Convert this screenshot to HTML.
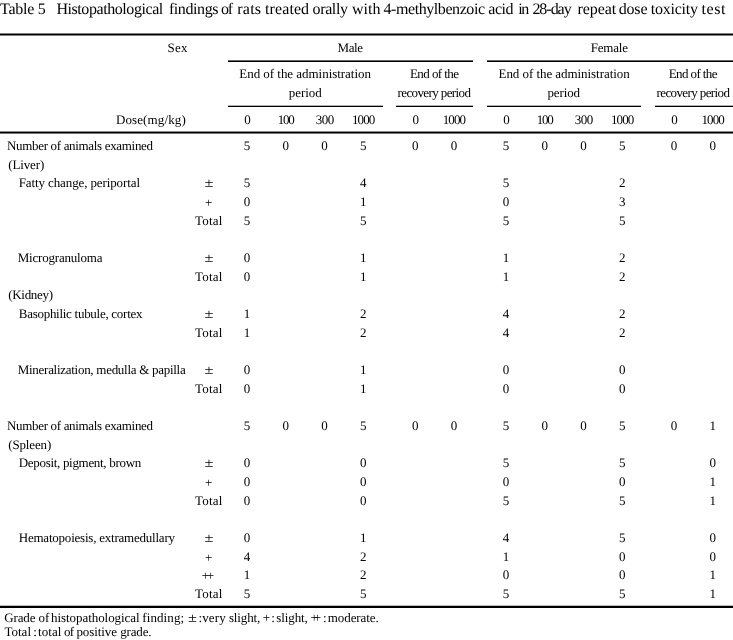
<!DOCTYPE html>
<html lang="en">
<head>
<meta charset="utf-8">
<title>Table 5</title>
<style>
html,body{margin:0;padding:0;background:#fff;overflow:hidden;}
body{width:733px;height:640px;position:relative;overflow:hidden;-webkit-font-smoothing:antialiased;text-rendering:geometricPrecision;font-family:"Liberation Serif","Noto Serif CJK SC",serif;color:#000;}
.t{position:absolute;white-space:nowrap;line-height:0;height:0;}
#page{position:absolute;left:0;top:0;width:733px;height:640px;overflow:hidden;will-change:transform;}
.ln{position:absolute;}
.pm{transform:scaleX(1.25);}
</style>
</head>
<body>
<main id="page">
<div class="ln" style="left:0px;top:33px;width:733px;height:3px;background:linear-gradient(to bottom,#808080 0px 1px,#000000 1px 2px,#808080 2px 3px)"></div>
<div class="ln" style="left:228px;top:60px;width:245px;height:2px;background:linear-gradient(to bottom,#666666 0px 1px,#000000 1px 2px)"></div>
<div class="ln" style="left:487px;top:60px;width:246px;height:2px;background:linear-gradient(to bottom,#666666 0px 1px,#000000 1px 2px)"></div>
<div class="ln" style="left:228px;top:105px;width:155px;height:2px;background:linear-gradient(to bottom,#b2b2b2 0px 1px,#000000 1px 2px)"></div>
<div class="ln" style="left:396px;top:105px;width:77px;height:2px;background:linear-gradient(to bottom,#b2b2b2 0px 1px,#000000 1px 2px)"></div>
<div class="ln" style="left:487px;top:105px;width:154px;height:2px;background:linear-gradient(to bottom,#b2b2b2 0px 1px,#000000 1px 2px)"></div>
<div class="ln" style="left:655px;top:105px;width:78px;height:2px;background:linear-gradient(to bottom,#b2b2b2 0px 1px,#000000 1px 2px)"></div>
<div class="ln" style="left:0px;top:131px;width:733px;height:3px;background:linear-gradient(to bottom,#8c8c8c 0px 1px,#000000 1px 2px,#737373 2px 3px)"></div>
<div class="ln" style="left:0px;top:605px;width:733px;height:3px;background:linear-gradient(to bottom,#bfbfbf 0px 1px,#000000 1px 2px,#000000 2px 3px)"></div>
<div class="t title" id="e0" style="font-size:16px;top:9.80px;left:0.00px;letter-spacing:-0.252px;">Table 5 </div>
<div class="t title" id="e1" style="font-size:16px;top:9.80px;left:56.40px;letter-spacing:-0.429px;">Histopathological </div>
<div class="t title" id="e2" style="font-size:16px;top:9.80px;left:168.90px;letter-spacing:-0.408px;">findings </div>
<div class="t title" id="e3" style="font-size:16px;top:9.80px;left:220.90px;letter-spacing:-1.028px;">of </div>
<div class="t title" id="e4" style="font-size:16px;top:9.80px;left:237.20px;letter-spacing:0.264px;">rats </div>
<div class="t title" id="e5" style="font-size:16px;top:9.80px;left:265.10px;letter-spacing:0.078px;">treated </div>
<div class="t title" id="e6" style="font-size:16px;top:9.80px;left:312.60px;letter-spacing:-0.386px;">orally </div>
<div class="t title" id="e7" style="font-size:16px;top:9.80px;left:352.00px;letter-spacing:0.049px;">with </div>
<div class="t title" id="e8" style="font-size:16px;top:9.80px;left:383.50px;letter-spacing:-0.430px;">4-methylbenzoic </div>
<div class="t title" id="e9" style="font-size:16px;top:9.80px;left:488.30px;letter-spacing:-0.485px;">acid </div>
<div class="t title" id="e10" style="font-size:16px;top:9.80px;left:518.30px;letter-spacing:-1.453px;">in </div>
<div class="t title" id="e11" style="font-size:16px;top:9.80px;left:532.40px;letter-spacing:-1.027px;">28-day </div>
<div class="t title" id="e12" style="font-size:16px;top:9.80px;left:577.40px;letter-spacing:-0.036px;">repeat </div>
<div class="t title" id="e13" style="font-size:16px;top:9.80px;left:618.70px;letter-spacing:-0.176px;">dose </div>
<div class="t title" id="e14" style="font-size:16px;top:9.80px;left:650.80px;letter-spacing:-0.256px;">toxicity </div>
<div class="t title" id="e15" style="font-size:16px;top:9.80px;left:701.50px;letter-spacing:0.560px;">test </div>
<div class="t" id="e16" style="font-size:13px;top:47.61px;left:167.50px;letter-spacing:0.250px;">Sex</div>
<div class="t" id="e17" style="font-size:13px;top:47.61px;left:337.50px;letter-spacing:-0.406px;">Male</div>
<div class="t" id="e18" style="font-size:13px;top:47.61px;left:590.75px;letter-spacing:-0.203px;">Female</div>
<div class="t" id="e19" style="font-size:13px;top:73.61px;left:239.25px;letter-spacing:-0.032px;">End of the administration</div>
<div class="t" id="e20" style="font-size:13px;top:92.61px;left:288.75px;letter-spacing:-0.044px;">period</div>
<div class="t" id="e21" style="font-size:13px;top:73.61px;left:410.00px;letter-spacing:-0.573px;">End of the</div>
<div class="t" id="e22" style="font-size:13px;top:92.61px;left:397.50px;letter-spacing:-0.603px;">recovery period</div>
<div class="t" id="e23" style="font-size:13px;top:73.61px;left:498.50px;letter-spacing:-0.053px;">End of the administration</div>
<div class="t" id="e24" style="font-size:13px;top:92.61px;left:547.50px;letter-spacing:-0.144px;">period</div>
<div class="t" id="e25" style="font-size:13px;top:73.61px;left:668.75px;letter-spacing:-0.601px;">End of the</div>
<div class="t" id="e26" style="font-size:13px;top:92.61px;left:656.50px;letter-spacing:-0.603px;">recovery period</div>
<div class="t" id="e27" style="font-size:13px;top:119.91px;left:115.90px;letter-spacing:0.129px;">Dose(mg/kg)</div>
<div class="t" id="e28" style="font-size:13px;top:119.86px;left:147.4px;width:200px;text-align:center;">0</div>
<div class="t" id="e29" style="font-size:13px;top:119.86px;left:277.65px;letter-spacing:-1.250px;">100</div>
<div class="t" id="e30" style="font-size:13px;top:119.86px;left:315.65px;letter-spacing:-0.500px;">300</div>
<div class="t" id="e31" style="font-size:13px;top:119.86px;left:352.02px;letter-spacing:-0.917px;">1000</div>
<div class="t" id="e32" style="font-size:13px;top:119.86px;left:315.65px;width:200px;text-align:center;">0</div>
<div class="t" id="e33" style="font-size:13px;top:119.86px;left:442.77px;letter-spacing:-0.917px;">1000</div>
<div class="t" id="e34" style="font-size:13px;top:119.86px;left:406.4px;width:200px;text-align:center;">0</div>
<div class="t" id="e35" style="font-size:13px;top:119.86px;left:536.65px;letter-spacing:-1.250px;">100</div>
<div class="t" id="e36" style="font-size:13px;top:119.86px;left:574.65px;letter-spacing:-0.500px;">300</div>
<div class="t" id="e37" style="font-size:13px;top:119.86px;left:611.02px;letter-spacing:-0.917px;">1000</div>
<div class="t" id="e38" style="font-size:13px;top:119.86px;left:574.4px;width:200px;text-align:center;">0</div>
<div class="t" id="e39" style="font-size:13px;top:119.86px;left:701.52px;letter-spacing:-0.917px;">1000</div>
<div class="t" id="e40" style="font-size:13px;top:145.91px;left:7.00px;letter-spacing:-0.326px;">Number of animals examined</div>
<div class="t" id="e41" style="font-size:13px;top:145.91px;left:147px;width:200px;text-align:center;">5</div>
<div class="t" id="e42" style="font-size:13px;top:145.91px;left:185.75px;width:200px;text-align:center;">0</div>
<div class="t" id="e43" style="font-size:13px;top:145.91px;left:224.5px;width:200px;text-align:center;">0</div>
<div class="t" id="e44" style="font-size:13px;top:145.91px;left:263.25px;width:200px;text-align:center;">5</div>
<div class="t" id="e45" style="font-size:13px;top:145.91px;left:315.25px;width:200px;text-align:center;">0</div>
<div class="t" id="e46" style="font-size:13px;top:145.91px;left:354px;width:200px;text-align:center;">0</div>
<div class="t" id="e47" style="font-size:13px;top:145.91px;left:406px;width:200px;text-align:center;">5</div>
<div class="t" id="e48" style="font-size:13px;top:145.91px;left:444.75px;width:200px;text-align:center;">0</div>
<div class="t" id="e49" style="font-size:13px;top:145.91px;left:483.5px;width:200px;text-align:center;">0</div>
<div class="t" id="e50" style="font-size:13px;top:145.91px;left:522.25px;width:200px;text-align:center;">5</div>
<div class="t" id="e51" style="font-size:13px;top:145.91px;left:574px;width:200px;text-align:center;">0</div>
<div class="t" id="e52" style="font-size:13px;top:145.91px;left:612.75px;width:200px;text-align:center;">0</div>
<div class="t" id="e53" style="font-size:13px;top:164.91px;left:8.25px;letter-spacing:-0.135px;">(Liver)</div>
<div class="t" id="e54" style="font-size:13px;top:182.91px;left:18.75px;letter-spacing:-0.112px;">Fatty change, periportal</div>
<div class="t pm" id="e55" style="font-size:13px;top:182.91px;left:108.75px;width:200px;text-align:center;">±</div>
<div class="t" id="e56" style="font-size:13px;top:182.91px;left:147px;width:200px;text-align:center;">5</div>
<div class="t" id="e57" style="font-size:13px;top:182.91px;left:263.25px;width:200px;text-align:center;">4</div>
<div class="t" id="e58" style="font-size:13px;top:182.91px;left:406px;width:200px;text-align:center;">5</div>
<div class="t" id="e59" style="font-size:13px;top:182.91px;left:522.25px;width:200px;text-align:center;">2</div>
<div class="t pl" id="e60" style="font-size:13px;top:202.91px;left:108.75px;width:200px;text-align:center;">+</div>
<div class="t" id="e61" style="font-size:13px;top:201.91px;left:147px;width:200px;text-align:center;">0</div>
<div class="t" id="e62" style="font-size:13px;top:201.91px;left:263.25px;width:200px;text-align:center;">1</div>
<div class="t" id="e63" style="font-size:13px;top:201.91px;left:406px;width:200px;text-align:center;">0</div>
<div class="t" id="e64" style="font-size:13px;top:201.91px;left:522.25px;width:200px;text-align:center;">3</div>
<div class="t" id="e65" style="font-size:13px;top:220.91px;left:195.00px;letter-spacing:0.180px;">Total</div>
<div class="t" id="e66" style="font-size:13px;top:220.91px;left:147px;width:200px;text-align:center;">5</div>
<div class="t" id="e67" style="font-size:13px;top:220.91px;left:263.25px;width:200px;text-align:center;">5</div>
<div class="t" id="e68" style="font-size:13px;top:220.91px;left:406px;width:200px;text-align:center;">5</div>
<div class="t" id="e69" style="font-size:13px;top:220.91px;left:522.25px;width:200px;text-align:center;">5</div>
<div class="t" id="e70" style="font-size:13px;top:257.91px;left:17.75px;letter-spacing:-0.202px;">Microgranuloma</div>
<div class="t pm" id="e71" style="font-size:13px;top:257.91px;left:108.75px;width:200px;text-align:center;">±</div>
<div class="t" id="e72" style="font-size:13px;top:257.91px;left:147px;width:200px;text-align:center;">0</div>
<div class="t" id="e73" style="font-size:13px;top:257.91px;left:263.25px;width:200px;text-align:center;">1</div>
<div class="t" id="e74" style="font-size:13px;top:257.91px;left:406px;width:200px;text-align:center;">1</div>
<div class="t" id="e75" style="font-size:13px;top:257.91px;left:522.25px;width:200px;text-align:center;">2</div>
<div class="t" id="e76" style="font-size:13px;top:276.91px;left:195.00px;letter-spacing:0.180px;">Total</div>
<div class="t" id="e77" style="font-size:13px;top:276.91px;left:147px;width:200px;text-align:center;">0</div>
<div class="t" id="e78" style="font-size:13px;top:276.91px;left:263.25px;width:200px;text-align:center;">1</div>
<div class="t" id="e79" style="font-size:13px;top:276.91px;left:406px;width:200px;text-align:center;">1</div>
<div class="t" id="e80" style="font-size:13px;top:276.91px;left:522.25px;width:200px;text-align:center;">2</div>
<div class="t" id="e81" style="font-size:13px;top:294.91px;left:8.25px;letter-spacing:-0.312px;">(Kidney)</div>
<div class="t" id="e82" style="font-size:13px;top:313.91px;left:18.75px;letter-spacing:-0.275px;">Basophilic tubule, cortex</div>
<div class="t pm" id="e83" style="font-size:13px;top:313.91px;left:108.75px;width:200px;text-align:center;">±</div>
<div class="t" id="e84" style="font-size:13px;top:313.91px;left:147px;width:200px;text-align:center;">1</div>
<div class="t" id="e85" style="font-size:13px;top:313.91px;left:263.25px;width:200px;text-align:center;">2</div>
<div class="t" id="e86" style="font-size:13px;top:313.91px;left:406px;width:200px;text-align:center;">4</div>
<div class="t" id="e87" style="font-size:13px;top:313.91px;left:522.25px;width:200px;text-align:center;">2</div>
<div class="t" id="e88" style="font-size:13px;top:332.91px;left:195.00px;letter-spacing:0.180px;">Total</div>
<div class="t" id="e89" style="font-size:13px;top:332.91px;left:147px;width:200px;text-align:center;">1</div>
<div class="t" id="e90" style="font-size:13px;top:332.91px;left:263.25px;width:200px;text-align:center;">2</div>
<div class="t" id="e91" style="font-size:13px;top:332.91px;left:406px;width:200px;text-align:center;">4</div>
<div class="t" id="e92" style="font-size:13px;top:332.91px;left:522.25px;width:200px;text-align:center;">2</div>
<div class="t" id="e93" style="font-size:13px;top:369.91px;left:17.75px;letter-spacing:-0.279px;">Mineralization, medulla &amp; papilla</div>
<div class="t pm" id="e94" style="font-size:13px;top:369.91px;left:108.75px;width:200px;text-align:center;">±</div>
<div class="t" id="e95" style="font-size:13px;top:369.91px;left:147px;width:200px;text-align:center;">0</div>
<div class="t" id="e96" style="font-size:13px;top:369.91px;left:263.25px;width:200px;text-align:center;">1</div>
<div class="t" id="e97" style="font-size:13px;top:369.91px;left:406px;width:200px;text-align:center;">0</div>
<div class="t" id="e98" style="font-size:13px;top:369.91px;left:522.25px;width:200px;text-align:center;">0</div>
<div class="t" id="e99" style="font-size:13px;top:388.91px;left:195.00px;letter-spacing:0.180px;">Total</div>
<div class="t" id="e100" style="font-size:13px;top:388.91px;left:147px;width:200px;text-align:center;">0</div>
<div class="t" id="e101" style="font-size:13px;top:388.91px;left:263.25px;width:200px;text-align:center;">1</div>
<div class="t" id="e102" style="font-size:13px;top:388.91px;left:406px;width:200px;text-align:center;">0</div>
<div class="t" id="e103" style="font-size:13px;top:388.91px;left:522.25px;width:200px;text-align:center;">0</div>
<div class="t" id="e104" style="font-size:13px;top:425.91px;left:7.00px;letter-spacing:-0.326px;">Number of animals examined</div>
<div class="t" id="e105" style="font-size:13px;top:425.91px;left:147px;width:200px;text-align:center;">5</div>
<div class="t" id="e106" style="font-size:13px;top:425.91px;left:185.75px;width:200px;text-align:center;">0</div>
<div class="t" id="e107" style="font-size:13px;top:425.91px;left:224.5px;width:200px;text-align:center;">0</div>
<div class="t" id="e108" style="font-size:13px;top:425.91px;left:263.25px;width:200px;text-align:center;">5</div>
<div class="t" id="e109" style="font-size:13px;top:425.91px;left:315.25px;width:200px;text-align:center;">0</div>
<div class="t" id="e110" style="font-size:13px;top:425.91px;left:354px;width:200px;text-align:center;">0</div>
<div class="t" id="e111" style="font-size:13px;top:425.91px;left:406px;width:200px;text-align:center;">5</div>
<div class="t" id="e112" style="font-size:13px;top:425.91px;left:444.75px;width:200px;text-align:center;">0</div>
<div class="t" id="e113" style="font-size:13px;top:425.91px;left:483.5px;width:200px;text-align:center;">0</div>
<div class="t" id="e114" style="font-size:13px;top:425.91px;left:522.25px;width:200px;text-align:center;">5</div>
<div class="t" id="e115" style="font-size:13px;top:425.91px;left:574px;width:200px;text-align:center;">0</div>
<div class="t" id="e116" style="font-size:13px;top:425.91px;left:612.75px;width:200px;text-align:center;">1</div>
<div class="t" id="e117" style="font-size:13px;top:444.91px;left:8.25px;letter-spacing:-0.150px;">(Spleen)</div>
<div class="t" id="e118" style="font-size:13px;top:462.91px;left:18.75px;letter-spacing:-0.308px;">Deposit, pigment, brown</div>
<div class="t pm" id="e119" style="font-size:13px;top:462.91px;left:108.75px;width:200px;text-align:center;">±</div>
<div class="t" id="e120" style="font-size:13px;top:462.91px;left:147px;width:200px;text-align:center;">0</div>
<div class="t" id="e121" style="font-size:13px;top:462.91px;left:263.25px;width:200px;text-align:center;">0</div>
<div class="t" id="e122" style="font-size:13px;top:462.91px;left:406px;width:200px;text-align:center;">5</div>
<div class="t" id="e123" style="font-size:13px;top:462.91px;left:522.25px;width:200px;text-align:center;">5</div>
<div class="t" id="e124" style="font-size:13px;top:462.91px;left:612.75px;width:200px;text-align:center;">0</div>
<div class="t pl" id="e125" style="font-size:13px;top:482.91px;left:108.75px;width:200px;text-align:center;">+</div>
<div class="t" id="e126" style="font-size:13px;top:481.91px;left:147px;width:200px;text-align:center;">0</div>
<div class="t" id="e127" style="font-size:13px;top:481.91px;left:263.25px;width:200px;text-align:center;">0</div>
<div class="t" id="e128" style="font-size:13px;top:481.91px;left:406px;width:200px;text-align:center;">0</div>
<div class="t" id="e129" style="font-size:13px;top:481.91px;left:522.25px;width:200px;text-align:center;">0</div>
<div class="t" id="e130" style="font-size:13px;top:481.91px;left:612.75px;width:200px;text-align:center;">1</div>
<div class="t" id="e131" style="font-size:13px;top:500.91px;left:195.00px;letter-spacing:0.180px;">Total</div>
<div class="t" id="e132" style="font-size:13px;top:500.91px;left:147px;width:200px;text-align:center;">0</div>
<div class="t" id="e133" style="font-size:13px;top:500.91px;left:263.25px;width:200px;text-align:center;">0</div>
<div class="t" id="e134" style="font-size:13px;top:500.91px;left:406px;width:200px;text-align:center;">5</div>
<div class="t" id="e135" style="font-size:13px;top:500.91px;left:522.25px;width:200px;text-align:center;">5</div>
<div class="t" id="e136" style="font-size:13px;top:500.91px;left:612.75px;width:200px;text-align:center;">1</div>
<div class="t" id="e137" style="font-size:13px;top:537.91px;left:18.75px;letter-spacing:-0.222px;">Hematopoiesis, extramedullary</div>
<div class="t pm" id="e138" style="font-size:13px;top:537.91px;left:108.75px;width:200px;text-align:center;">±</div>
<div class="t" id="e139" style="font-size:13px;top:537.91px;left:147px;width:200px;text-align:center;">0</div>
<div class="t" id="e140" style="font-size:13px;top:537.91px;left:263.25px;width:200px;text-align:center;">1</div>
<div class="t" id="e141" style="font-size:13px;top:537.91px;left:406px;width:200px;text-align:center;">4</div>
<div class="t" id="e142" style="font-size:13px;top:537.91px;left:522.25px;width:200px;text-align:center;">5</div>
<div class="t" id="e143" style="font-size:13px;top:537.91px;left:612.75px;width:200px;text-align:center;">0</div>
<div class="t pl" id="e144" style="font-size:13px;top:557.91px;left:108.75px;width:200px;text-align:center;">+</div>
<div class="t" id="e145" style="font-size:13px;top:556.91px;left:147px;width:200px;text-align:center;">4</div>
<div class="t" id="e146" style="font-size:13px;top:556.91px;left:263.25px;width:200px;text-align:center;">2</div>
<div class="t" id="e147" style="font-size:13px;top:556.91px;left:406px;width:200px;text-align:center;">1</div>
<div class="t" id="e148" style="font-size:13px;top:556.91px;left:522.25px;width:200px;text-align:center;">0</div>
<div class="t" id="e149" style="font-size:13px;top:556.91px;left:612.75px;width:200px;text-align:center;">0</div>
<div class="t pp" id="e150" style="font-size:13px;top:575.91px;left:201.80px;letter-spacing:-2.372px;">++</div>
<div class="t" id="e151" style="font-size:13px;top:574.91px;left:147px;width:200px;text-align:center;">1</div>
<div class="t" id="e152" style="font-size:13px;top:574.91px;left:263.25px;width:200px;text-align:center;">2</div>
<div class="t" id="e153" style="font-size:13px;top:574.91px;left:406px;width:200px;text-align:center;">0</div>
<div class="t" id="e154" style="font-size:13px;top:574.91px;left:522.25px;width:200px;text-align:center;">0</div>
<div class="t" id="e155" style="font-size:13px;top:574.91px;left:612.75px;width:200px;text-align:center;">1</div>
<div class="t" id="e156" style="font-size:13px;top:593.91px;left:195.00px;letter-spacing:0.180px;">Total</div>
<div class="t" id="e157" style="font-size:13px;top:593.91px;left:147px;width:200px;text-align:center;">5</div>
<div class="t" id="e158" style="font-size:13px;top:593.91px;left:263.25px;width:200px;text-align:center;">5</div>
<div class="t" id="e159" style="font-size:13px;top:593.91px;left:406px;width:200px;text-align:center;">5</div>
<div class="t" id="e160" style="font-size:13px;top:593.91px;left:522.25px;width:200px;text-align:center;">5</div>
<div class="t" id="e161" style="font-size:13px;top:593.91px;left:612.75px;width:200px;text-align:center;">1</div>
<div class="t fn" id="e162" style="font-size:13px;top:617.91px;left:4.20px;letter-spacing:-0.116px;">Grade </div>
<div class="t fn" id="e163" style="font-size:13px;top:617.91px;left:38.60px;letter-spacing:-0.144px;">of </div>
<div class="t fn" id="e164" style="font-size:13px;top:617.91px;left:51.10px;letter-spacing:-0.065px;">histopathological </div>
<div class="t fn" id="e165" style="font-size:13px;top:617.91px;left:142.30px;letter-spacing:0.090px;">finding; </div>
<div class="t pm" id="e166" style="font-size:13px;top:617.91px;left:189.34px;letter-spacing:0.000px;">± </div>
<div class="t fn" id="e167" style="font-size:13px;top:617.91px;left:198.49px;letter-spacing:0.000px;">: </div>
<div class="t fn" id="e168" style="font-size:13px;top:617.91px;left:202.20px;letter-spacing:0.130px;">very </div>
<div class="t fn" id="e169" style="font-size:13px;top:617.91px;left:228.90px;letter-spacing:-0.126px;">slight, </div>
<div class="t fn" id="e170" style="font-size:13px;top:617.91px;left:262.73px;letter-spacing:0.000px;">+ </div>
<div class="t fn" id="e171" style="font-size:13px;top:617.91px;left:271.19px;letter-spacing:0.000px;">: </div>
<div class="t fn" id="e172" style="font-size:13px;top:617.91px;left:276.30px;letter-spacing:-0.109px;">slight, </div>
<div class="t fn" id="e173" style="font-size:13px;top:617.91px;left:310.40px;letter-spacing:-3.972px;">++ </div>
<div class="t fn" id="e174" style="font-size:13px;top:617.91px;left:322.94px;letter-spacing:0.000px;">: </div>
<div class="t fn" id="e175" style="font-size:13px;top:617.91px;left:327.80px;letter-spacing:-0.078px;">moderate. </div>
<div class="t fn" id="e176" style="font-size:13px;top:631.91px;left:4.50px;letter-spacing:-0.008px;">Total </div>
<div class="t fn" id="e177" style="font-size:13px;top:631.91px;left:33.19px;letter-spacing:0.000px;">: </div>
<div class="t fn" id="e178" style="font-size:13px;top:631.91px;left:38.10px;letter-spacing:0.023px;">total </div>
<div class="t fn" id="e179" style="font-size:13px;top:631.91px;left:63.90px;letter-spacing:-0.544px;">of </div>
<div class="t fn" id="e180" style="font-size:13px;top:631.91px;left:76.40px;letter-spacing:-0.082px;">positive </div>
<div class="t fn" id="e181" style="font-size:13px;top:631.91px;left:120.20px;letter-spacing:-0.145px;">grade. </div>
</main>
</body>
</html>
